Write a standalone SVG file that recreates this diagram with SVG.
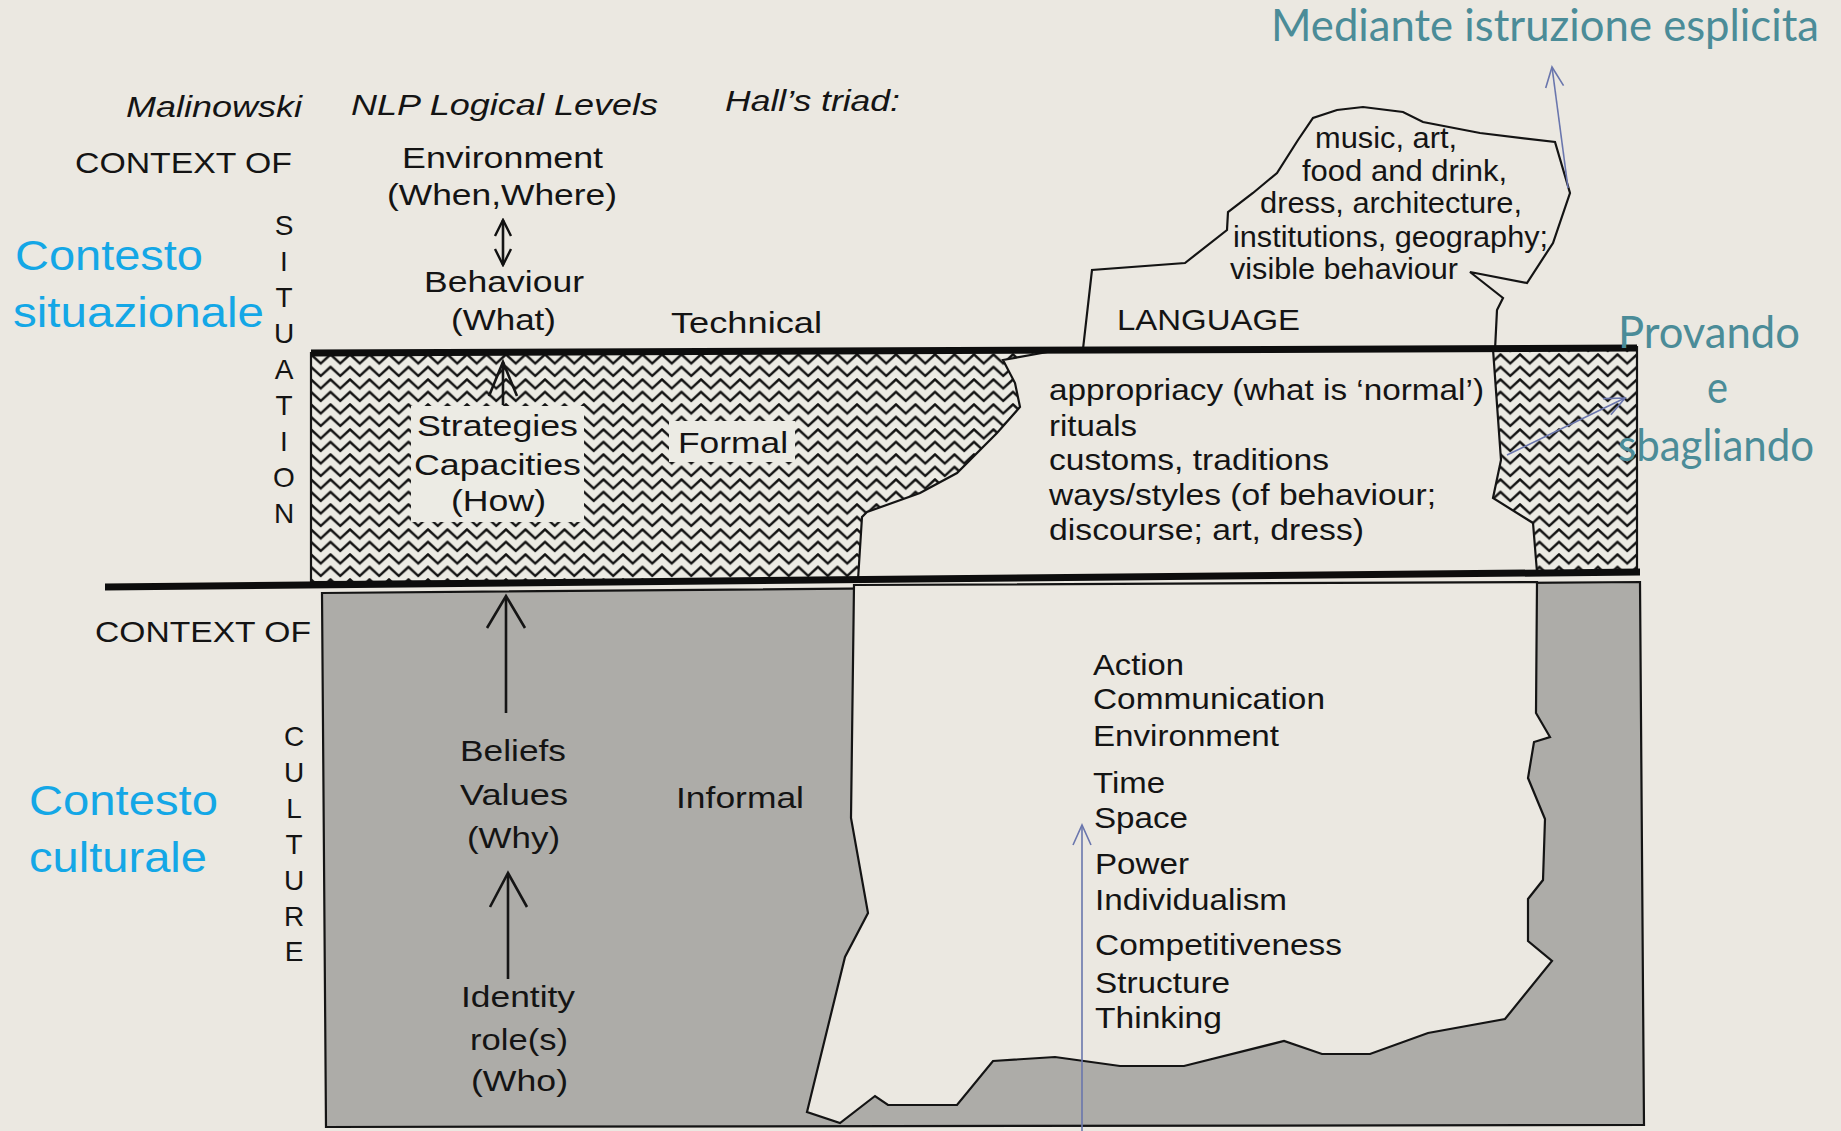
<svg xmlns="http://www.w3.org/2000/svg" width="1841" height="1131" viewBox="0 0 1841 1131">
<defs>
<pattern id="zig" patternUnits="userSpaceOnUse" x="311" y="353" width="19.5" height="12.5">
<rect width="19.5" height="12.5" fill="#ecebe4"/>
<path d="M-0.5,1 L9.75,10.5 L20,1" fill="none" stroke="#111" stroke-width="2.4"/>
</pattern>
<marker id="open" viewBox="0 0 20 20" refX="18" refY="10" markerWidth="20" markerHeight="20" markerUnits="userSpaceOnUse" orient="auto">
<path d="M2,2 L18,10 L2,18" fill="none" stroke="#111" stroke-width="2.4"/>
</marker>
<marker id="openStart" viewBox="0 0 20 20" refX="2" refY="10" markerWidth="20" markerHeight="20" markerUnits="userSpaceOnUse" orient="auto">
<path d="M18,2 L2,10 L18,18" fill="none" stroke="#111" stroke-width="2.4"/>
</marker>
<marker id="thin" viewBox="0 0 24 24" refX="22" refY="12" markerWidth="24" markerHeight="24" markerUnits="userSpaceOnUse" orient="auto">
<path d="M2,3 L22,12 L2,21" fill="none" stroke="#6a76ad" stroke-width="1.6"/>
</marker>
</defs>
<style>
text{font-family:"Liberation Sans",Arial,sans-serif;fill:#141414;}
.b{font-size:30px;}
.s{font-size:29px;}
.i{font-size:30px;font-style:italic;}
.v{font-size:28px;text-anchor:middle;}
.blue{font-size:43px;fill:#14a7e6;}
.teal{font-family:Lato,"Open Sans",sans-serif;font-size:44px;fill:#4b8c98;}
.edge{fill:none;stroke:#141414;stroke-width:2.2;stroke-linejoin:miter;}
.thick{stroke:#0d0d0d;stroke-width:7;}
.arr{stroke:#151515;stroke-width:2.6;fill:none;}
.tarr{stroke:#6a76ad;stroke-width:1.6;fill:none;}
</style>
<rect width="1841" height="1131" fill="#ebe8e1"/>

<g id="culture-zone">
<polygon points="322,593 1640,582 1644,1125 326,1127" fill="#adaca8" stroke="#141414" stroke-width="2.2"/>
<polygon points="854,585 851,818 868,913 845,957 807,1112 840,1123 875,1096 888,1105 957,1105 993,1061 1055,1057 1120,1066 1184,1066 1284,1041 1322,1054 1370,1054 1428,1033 1505,1019 1552,961 1528,941 1528,899 1543,880 1545,819 1528,778 1534,742 1550,737 1536,713 1537,582" fill="#ebe8e1" stroke="#141414" stroke-width="2.2"/>
</g>

<g id="situation-zone">
<polygon points="311,353 1053,351 1003,360 1015,383 1020,407 997,433 957,473 920,493 867,512 862,517 858,580 311,582" fill="url(#zig)" stroke="#141414" stroke-width="2.2"/>
<polygon points="1493,349 1637,347 1637,572 1537,572 1533,523 1493,498 1501,460" fill="url(#zig)" stroke="#141414" stroke-width="2.2"/>
<rect x="411" y="406" width="173" height="116" fill="#ecebe4"/>
<rect x="669" y="421" width="126" height="41" fill="#ecebe4"/>
</g>

<g id="iceberg-top">
<polyline class="edge" points="1083,349 1092,270 1185,263 1227,230 1228,212 1253,193 1277,173 1298,140 1313,118 1337,110 1363,107 1403,112 1423,122 1480,133 1555,142 1570,193 1553,243 1527,283 1470,272 1503,298 1497,310 1495,350"/>
</g>

<g id="lines">
<line class="thick" x1="311" y1="353" x2="1637" y2="348"/>
<line class="thick" x1="105" y1="587" x2="1640" y2="572" stroke-width="6.5"/>
</g>

<g id="connectors">
<line class="arr" x1="503" y1="220" x2="503" y2="265" marker-start="url(#openStart)" marker-end="url(#open)"/>
<line class="arr" x1="503" y1="405" x2="503" y2="362"/>
<polyline class="arr" points="489,396 503,362 517,396"/>
<line class="arr" x1="506" y1="713" x2="506" y2="597"/>
<polyline class="arr" points="487,628 506,596 525,628"/>
<line class="arr" x1="508" y1="979" x2="508" y2="874"/>
<polyline class="arr" points="490,907 508,873 527,907"/>
<line class="tarr" x1="1568" y1="188" x2="1552" y2="67" marker-end="url(#thin)"/>
<line class="tarr" x1="1507" y1="455" x2="1625" y2="398" marker-end="url(#thin)"/>
<line class="tarr" x1="1082" y1="1131" x2="1082" y2="825" marker-end="url(#thin)"/>
</g>

<g id="headers">
<text class="i" x="126" y="117" textLength="176" lengthAdjust="spacingAndGlyphs">Malinowski</text>
<text class="i" x="351" y="115" textLength="307" lengthAdjust="spacingAndGlyphs">NLP Logical Levels</text>
<text class="i" x="725" y="111" textLength="175" lengthAdjust="spacingAndGlyphs">Hall’s triad:</text>
</g>

<g id="situation-labels">
<text class="b" x="75" y="173" textLength="217" lengthAdjust="spacingAndGlyphs">CONTEXT OF</text>
<text class="v" x="284" y="235">S</text>
<text class="v" x="284" y="271">I</text>
<text class="v" x="284" y="307">T</text>
<text class="v" x="284" y="343">U</text>
<text class="v" x="284" y="379">A</text>
<text class="v" x="284" y="415">T</text>
<text class="v" x="284" y="451">I</text>
<text class="v" x="284" y="487">O</text>
<text class="v" x="284" y="523">N</text>
<text class="blue" x="15" y="270" textLength="188" lengthAdjust="spacingAndGlyphs">Contesto</text>
<text class="blue" x="13" y="327" textLength="251" lengthAdjust="spacingAndGlyphs">situazionale</text>
</g>

<g id="nlp-upper">
<text class="b" x="402" y="168" textLength="201" lengthAdjust="spacingAndGlyphs">Environment</text>
<text class="b" x="387" y="205" textLength="230" lengthAdjust="spacingAndGlyphs">(When,Where)</text>
<text class="b" x="424" y="292" textLength="160" lengthAdjust="spacingAndGlyphs">Behaviour</text>
<text class="b" x="451" y="330" textLength="105" lengthAdjust="spacingAndGlyphs">(What)</text>
<text class="b" x="417" y="436" textLength="161" lengthAdjust="spacingAndGlyphs">Strategies</text>
<text class="b" x="414" y="475" textLength="167" lengthAdjust="spacingAndGlyphs">Capacities</text>
<text class="b" x="451" y="511" textLength="95" lengthAdjust="spacingAndGlyphs">(How)</text>
</g>

<g id="hall-labels">
<text class="b" x="671" y="333" textLength="151" lengthAdjust="spacingAndGlyphs">Technical</text>
<text class="b" x="678" y="453" textLength="110" lengthAdjust="spacingAndGlyphs">Formal</text>
<text class="b" x="676" y="808" textLength="128" lengthAdjust="spacingAndGlyphs">Informal</text>
</g>

<g id="iceberg-texts">
<text class="s" x="1315" y="148" textLength="142" lengthAdjust="spacingAndGlyphs">music, art,</text>
<text class="s" x="1302" y="181" textLength="205" lengthAdjust="spacingAndGlyphs">food and drink,</text>
<text class="s" x="1260" y="213" textLength="262" lengthAdjust="spacingAndGlyphs">dress, architecture,</text>
<text class="s" x="1233" y="247" textLength="315" lengthAdjust="spacingAndGlyphs">institutions, geography;</text>
<text class="s" x="1230" y="279" textLength="228" lengthAdjust="spacingAndGlyphs">visible behaviour</text>
<text class="s" x="1117" y="330" textLength="183" lengthAdjust="spacingAndGlyphs">LANGUAGE</text>
<text class="s" x="1049" y="400" textLength="435" lengthAdjust="spacingAndGlyphs">appropriacy (what is ‘normal’)</text>
<text class="s" x="1049" y="436" textLength="88" lengthAdjust="spacingAndGlyphs">rituals</text>
<text class="s" x="1049" y="470" textLength="280" lengthAdjust="spacingAndGlyphs">customs, traditions</text>
<text class="s" x="1049" y="505" textLength="387" lengthAdjust="spacingAndGlyphs">ways/styles (of behaviour;</text>
<text class="s" x="1049" y="540" textLength="315" lengthAdjust="spacingAndGlyphs">discourse; art, dress)</text>
</g>

<g id="culture-labels">
<text class="b" x="95" y="642" textLength="216" lengthAdjust="spacingAndGlyphs">CONTEXT OF</text>
<text class="v" x="294" y="746">C</text>
<text class="v" x="294" y="782">U</text>
<text class="v" x="294" y="818">L</text>
<text class="v" x="294" y="854">T</text>
<text class="v" x="294" y="890">U</text>
<text class="v" x="294" y="926">R</text>
<text class="v" x="294" y="961">E</text>
<text class="blue" x="29" y="815" textLength="189" lengthAdjust="spacingAndGlyphs">Contesto</text>
<text class="blue" x="29" y="872" textLength="178" lengthAdjust="spacingAndGlyphs">culturale</text>
</g>

<g id="nlp-lower">
<text class="b" x="460" y="761" textLength="106" lengthAdjust="spacingAndGlyphs">Beliefs</text>
<text class="b" x="460" y="805" textLength="108" lengthAdjust="spacingAndGlyphs">Values</text>
<text class="b" x="467" y="848" textLength="93" lengthAdjust="spacingAndGlyphs">(Why)</text>
<text class="b" x="461" y="1007" textLength="114" lengthAdjust="spacingAndGlyphs">Identity</text>
<text class="b" x="470" y="1050" textLength="98" lengthAdjust="spacingAndGlyphs">role(s)</text>
<text class="b" x="471" y="1091" textLength="97" lengthAdjust="spacingAndGlyphs">(Who)</text>
</g>

<g id="hidden-culture">
<text class="s" x="1093" y="675" textLength="91" lengthAdjust="spacingAndGlyphs">Action</text>
<text class="s" x="1093" y="709" textLength="232" lengthAdjust="spacingAndGlyphs">Communication</text>
<text class="s" x="1093" y="746" textLength="186" lengthAdjust="spacingAndGlyphs">Environment</text>
<text class="s" x="1093" y="793" textLength="72" lengthAdjust="spacingAndGlyphs">Time</text>
<text class="s" x="1094" y="828" textLength="94" lengthAdjust="spacingAndGlyphs">Space</text>
<text class="s" x="1095" y="874" textLength="94" lengthAdjust="spacingAndGlyphs">Power</text>
<text class="s" x="1095" y="910" textLength="192" lengthAdjust="spacingAndGlyphs">Individualism</text>
<text class="s" x="1095" y="955" textLength="247" lengthAdjust="spacingAndGlyphs">Competitiveness</text>
<text class="s" x="1095" y="993" textLength="135" lengthAdjust="spacingAndGlyphs">Structure</text>
<text class="s" x="1095" y="1028" textLength="127" lengthAdjust="spacingAndGlyphs">Thinking</text>
</g>

<g id="annotations">
<text class="teal" x="1271" y="41" textLength="548" lengthAdjust="spacingAndGlyphs">Mediante istruzione esplicita</text>
<text class="teal" x="1618" y="348" textLength="182" lengthAdjust="spacingAndGlyphs">Provando</text>
<text class="teal" x="1707" y="403" textLength="21" lengthAdjust="spacingAndGlyphs">e</text>
<text class="teal" x="1618" y="461" textLength="196" lengthAdjust="spacingAndGlyphs">sbagliando</text>
</g>
</svg>
